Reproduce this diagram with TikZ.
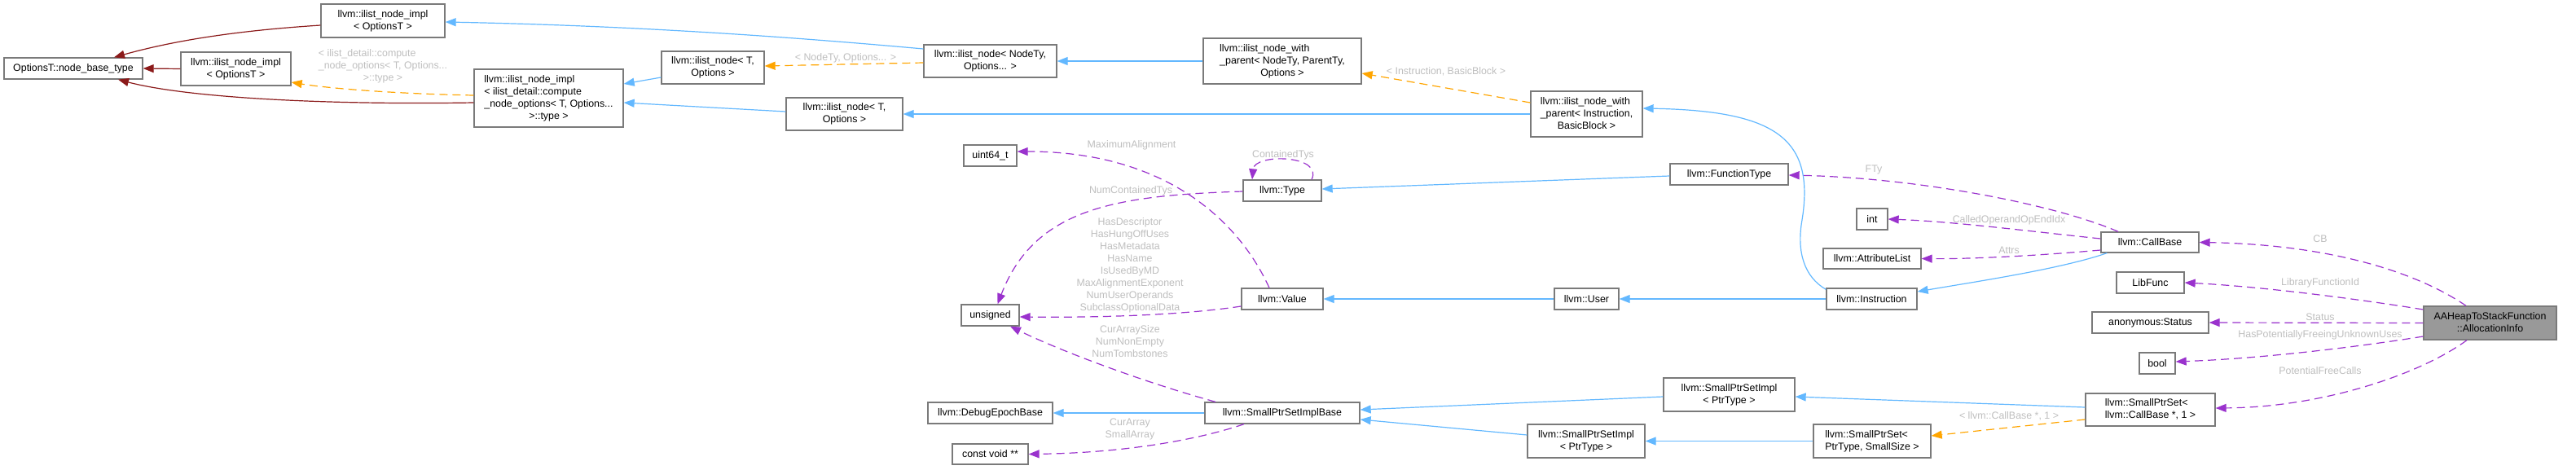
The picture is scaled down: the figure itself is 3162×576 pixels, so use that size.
\documentclass[tikz,border=0pt]{standalone}
\usepackage{fontspec}
\setmainfont{Liberation Sans}
\usetikzlibrary{arrows.meta}
\definecolor{inh}{HTML}{63B8FF}
\definecolor{redf}{HTML}{8B1A1A}
\definecolor{orng}{HTML}{FFA500}
\definecolor{purp}{HTML}{9A32CD}
\definecolor{lbl}{HTML}{BEBEBE}
\definecolor{bord}{HTML}{7A7A7A}
\definecolor{fillg}{HTML}{999999}
\newcommand\ml[2]{\begin{tabular}{@{}l@{}}#1\\\multicolumn{1}{@{}c@{}}{#2}\end{tabular}}
\tikzset{
 box/.style={draw=bord, line width=1.3pt, fill=white, inner sep=0pt, font=\fontsize{12.4}{15}\selectfont, text=black},
 lab/.style={font=\fontsize{12.4}{15}\selectfont, text=lbl, inner sep=0pt, align=center},
 tipa/.style={-{Triangle[length=13pt,width=10pt]}},
 inhe/.style={tipa, draw=inh, line width=1.2pt},
 rede/.style={tipa, draw=redf, line width=1.2pt},
 tmpl/.style={tipa, draw=orng, line width=1.2pt, dash pattern=on 10pt off 6pt},
 usage/.style={tipa, draw=purp, line width=1.2pt, dash pattern=on 10pt off 6pt},
}
\begin{document}
\begin{tikzpicture}[x=1pt,y=-1pt]
\useasboundingbox (0,0) rectangle (3162,576);
% nodes
\node[box, minimum width=170, minimum height=26] (n1) at (90,84) {OptionsT::node\_base\_type};
\node[box, minimum width=152, minimum height=41] (n2) at (470,25.5) {\ml{llvm::ilist\_node\_impl}{< OptionsT >}};
\node[box, minimum width=135, minimum height=41] (n3) at (289.5,84.5) {\ml{llvm::ilist\_node\_impl}{< OptionsT >}};
\node[box, minimum width=183, minimum height=71] (n4) at (673.5,120.5) {\ml{llvm::ilist\_node\_impl\\< ilist\_detail::compute\\\_node\_options< T, Options...}{>::type >}};
\node[box, minimum width=126, minimum height=40] (n5) at (875,83) {\ml{llvm::ilist\_node< T,}{Options >}};
\node[box, minimum width=163, minimum height=40] (n6) at (1215.5,75) {\ml{llvm::ilist\_node< NodeTy,}{Options... >}};
\node[box, minimum width=143, minimum height=40] (n7) at (1036.5,140) {\ml{llvm::ilist\_node< T,}{Options >}};
\node[box, minimum width=194, minimum height=56] (n8) at (1574,75) {\ml{llvm::ilist\_node\_with\\\_parent< NodeTy, ParentTy,}{Options >}};
\node[box, minimum width=137, minimum height=56] (n9) at (1947.5,140) {\ml{llvm::ilist\_node\_with\\\_parent< Instruction,}{BasicBlock >}};
\node[box, minimum width=65, minimum height=26] (n10) at (1215.5,191) {uint64\_t};
\node[box, minimum width=96, minimum height=26] (n11) at (1574,234) {llvm::Type};
\node[box, minimum width=71, minimum height=26] (n12) at (1215.5,387) {unsigned};
\node[box, minimum width=100, minimum height=26] (n13) at (1574,367) {llvm::Value};
\node[box, minimum width=153, minimum height=26] (n14) at (1215.5,507) {llvm::DebugEpochBase};
\node[box, minimum width=93, minimum height=25] (n15) at (1215.5,557.5) {const void **};
\node[box, minimum width=190, minimum height=26] (n16) at (1574,507) {llvm::SmallPtrSetImplBase};
\node[box, minimum width=79, minimum height=26] (n17) at (1947.5,367) {llvm::User};
\node[box, minimum width=144, minimum height=41] (n18) at (1947,541.5) {\ml{llvm::SmallPtrSetImpl}{< PtrType >}};
\node[box, minimum width=161, minimum height=41] (n19) at (2122.5,484.5) {\ml{llvm::SmallPtrSetImpl}{< PtrType >}};
\node[box, minimum width=145, minimum height=26] (n20) at (2122.5,214) {llvm::FunctionType};
\node[box, minimum width=111, minimum height=26] (n21) at (2297.5,367) {llvm::Instruction};
\node[box, minimum width=38, minimum height=26] (n22) at (2298,269) {int};
\node[box, minimum width=120, minimum height=25] (n23) at (2298,317.5) {llvm::AttributeList};
\node[box, minimum width=144, minimum height=41] (n24) at (2298,541.5) {\ml{llvm::SmallPtrSet<}{PtrType, SmallSize >}};
\node[box, minimum width=120, minimum height=25] (n25) at (2639,297.5) {llvm::CallBase};
\node[box, minimum width=83, minimum height=26] (n26) at (2639.5,347) {LibFunc};
\node[box, minimum width=143, minimum height=26] (n27) at (2639.5,396) {anonymous:Status};
\node[box, minimum width=44, minimum height=26] (n28) at (2648,446) {bool};
\node[box, minimum width=159, minimum height=40] (n29) at (2639.5,503) {\ml{llvm::SmallPtrSet<}{llvm::CallBase *, 1 >}};
\node[box, fill=fillg, minimum width=163, minimum height=41] (n30) at (3056.5,396.5) {\ml{AAHeapToStackFunction}{::AllocationInfo}};
% edges
\draw[rede] ([yshift=-5.5pt]n2.west) .. controls (300,37) and (220,48) .. ([xshift=50pt]n1.north);
\draw[rede] (n3.west) -- (n1.east);
\draw[rede] ([yshift=-5.5pt]n4.west) .. controls (400,129) and (230,120) .. ([xshift=55pt]n1.south);
\draw[tmpl] ([yshift=3.5pt]n4.west) .. controls (480,115) and (400,108) .. ([yshift=-16.5pt]n3.east);
\draw[inhe] ([yshift=-12pt]n5.west) -- ([yshift=17.5pt]n4.east);
\draw[inhe] ([yshift=3pt]n7.west) -- ([yshift=-5.5pt]n4.east);
\draw[inhe] ([yshift=15pt]n6.west) .. controls (1000,48) and (800,32) .. ([yshift=-1.5pt]n2.east);
\draw[tmpl] ([yshift=-2pt]n6.west) -- ([yshift=2pt]n5.east);
\draw[inhe] (n8.west) -- (n6.east);
\draw[tmpl] ([yshift=14pt]n9.west) -- ([yshift=-15pt]n8.east);
\draw[inhe] (n9.west) -- (n7.east);
\draw[inhe] ([yshift=-2pt]n21.north west) .. controls (2215,340) and (2205,310) .. (2212,270) .. controls (2228,170) and (2180,136) .. ([yshift=7pt]n9.east);
\draw[inhe] (n21.west) -- (n17.east);
\draw[inhe] (n17.west) -- (n13.east);
\draw[inhe] ([xshift=8pt]n25.south west) .. controls (2530,330) and (2430,345) .. ([yshift=9pt]n21.east);
\draw[inhe] ([yshift=-2pt]n20.west) -- ([yshift=2pt]n11.east);
\draw[usage] ([xshift=36pt]n11.north) .. controls (1625,190) and (1540,188) .. ([xshift=-37pt]n11.north);
\draw[usage] ([yshift=-1pt]n11.west) .. controls (1370,240) and (1270,255) .. ([xshift=9pt]n12.north);
\draw[usage] ([xshift=-16pt]n13.north) .. controls (1520,270) and (1430,186) .. ([yshift=5pt]n10.east);
\draw[usage] ([yshift=-9pt]n13.west) .. controls (1450,387) and (1350,390) .. ([yshift=-2pt]n12.east);
\draw[usage] ([xshift=-82pt]n16.north) .. controls (1400,468) and (1300,430) .. ([xshift=24.5pt]n12.south);
\draw[inhe] (n16.west) -- (n14.east);
\draw[usage] ([xshift=-47pt]n16.south) .. controls (1470,540) and (1380,556) .. (n15.east);
\draw[inhe] ([yshift=-2.5pt]n19.west) -- ([yshift=4pt]n16.east);
\draw[inhe] ([yshift=7.5pt]n18.west) -- ([yshift=-8pt]n16.east);
\draw[inhe] (n24.west) -- (n18.east);
\draw[inhe] ([yshift=3pt]n29.west) -- ([yshift=-2.5pt]n19.east);
\draw[tmpl] ([yshift=-12pt]n29.west) -- ([yshift=6.5pt]n24.east);
\draw[usage] ([xshift=-39pt]n25.north) .. controls (2520,250) and (2350,218) .. ([yshift=-1pt]n20.east);
\draw[usage] ([yshift=4.5pt]n25.west) .. controls (2500,285) and (2400,272) .. (n22.east);
\draw[usage] ([yshift=-9.5pt]n25.west) .. controls (2500,314) and (2420,318) .. (n23.east);
\draw[usage] ([xshift=-29.5pt]n30.north) .. controls (2960,330) and (2850,300) .. (n25.east);
\draw[usage] ([yshift=16.5pt]n30.west) .. controls (2900,368) and (2780,352) .. (n26.east);
\draw[usage] (n30.west) -- (n27.east);
\draw[usage] ([yshift=-16.5pt]n30.west) .. controls (2900,425) and (2780,440) .. ([yshift=2pt]n28.east);
\draw[usage] ([xshift=-28.5pt]n30.south) .. controls (2970,460) and (2850,500) .. ([yshift=2pt]n29.east);
% labels
\node[lab] (l4) at (470,81) {\ml{< ilist\_detail::compute\\\_node\_options< T, Options...}{>::type >}};
\node[lab] (l8) at (1038,71) {< NodeTy, Options... >};
\node[lab] (l10) at (1775,88) {< Instruction, BasicBlock >};
\node[lab] (l17) at (1575,190) {ContainedTys};
\node[lab] (l18) at (1388,234) {NumContainedTys};
\node[lab] (l19) at (1389,178) {MaximumAlignment};
\node[lab] (l20) at (1387,325.5) {HasDescriptor\\HasHungOffUses\\HasMetadata\\HasName\\IsUsedByMD\\MaxAlignmentExponent\\NumUserOperands\\SubclassOptionalData};
\node[lab] (l21) at (1387,419) {CurArraySize\\NumNonEmpty\\NumTombstones};
\node[lab] (l23) at (1387,527) {CurArray\\SmallArray};
\node[lab] (l28) at (2466,511) {< llvm::CallBase *, 1 >};
\node[lab] (l29) at (2300,209) {FTy};
\node[lab] (l30) at (2466,270) {CalledOperandOpEndIdx};
\node[lab] (l31) at (2466,307) {Attrs};
\node[lab] (l32) at (2848,293) {CB};
\node[lab] (l33) at (2848,347) {LibraryFunctionId};
\node[lab] (l34) at (2848,389) {Status};
\node[lab] (l35) at (2848,411) {HasPotentiallyFreeingUnknownUses};
\node[lab] (l36) at (2848,455) {PotentialFreeCalls};
\end{tikzpicture}
\end{document}
